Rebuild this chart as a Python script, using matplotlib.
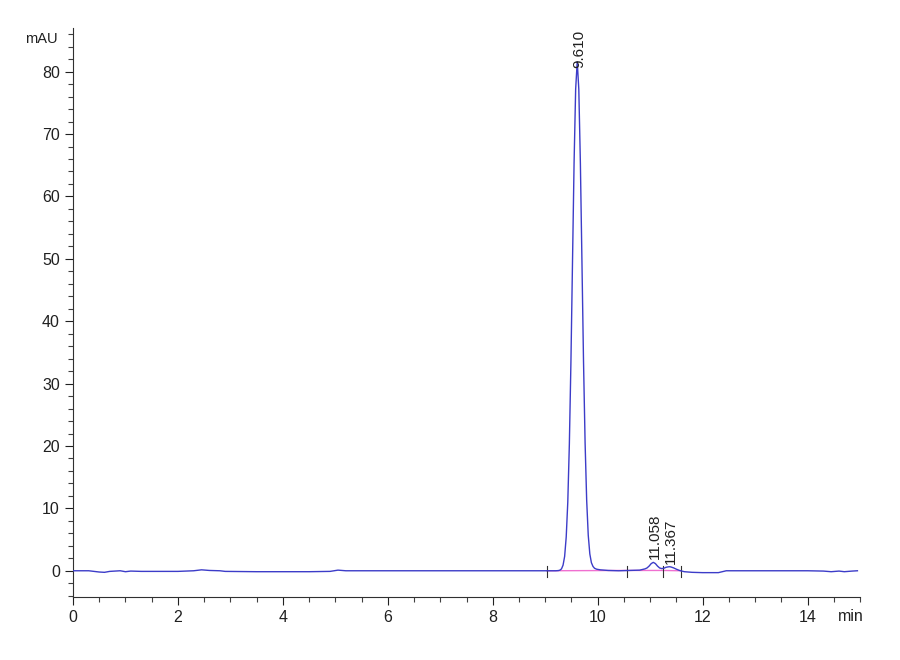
import numpy as np
import matplotlib
matplotlib.use('Agg')
import matplotlib.pyplot as plt
from matplotlib.ticker import MultipleLocator

plt.rcParams['font.family'] = ['Liberation Sans', 'DejaVu Sans']

# クロマトグラムの読み取り値 (時間[min], 信号[mAU])
time = [0, 0.3, 0.5, 0.6, 0.7, 0.9, 1.0, 1.1, 1.3, 1.6, 2.0, 2.3, 2.45, 2.6,
        2.8, 2.9, 3.5, 4.0, 4.5, 4.9, 5.05, 5.2, 5.6, 6.0, 7.0, 8.0, 8.6,
        9.0, 9.2,
        9.25, 9.28, 9.31, 9.34, 9.37, 9.40, 9.43, 9.46, 9.49, 9.52, 9.55,
        9.58, 9.61, 9.64, 9.67, 9.70, 9.73, 9.76, 9.79, 9.82, 9.85, 9.88,
        9.91, 9.94, 9.98, 10.05, 10.2, 10.4, 10.6, 10.8, 10.9,
        10.94, 10.98, 11.02, 11.06, 11.10, 11.14, 11.18, 11.22, 11.26, 11.30,
        11.34, 11.37, 11.40, 11.45, 11.50, 11.56, 11.65, 11.8, 12.0, 12.3,
        12.45, 13.0, 13.5, 14.0, 14.3, 14.45, 14.6, 14.7, 14.85, 14.95]
signal = [0, 0, -0.2, -0.25, -0.1, 0, -0.15, -0.05, -0.1, -0.1, -0.1, 0, 0.15, 0.05,
          0, -0.1, -0.15, -0.15, -0.15, -0.1, 0.1, 0, 0, 0, 0, 0, 0,
          0, 0,
          0.03, 0.1, 0.3, 0.9, 2.3, 5.4, 11.0, 20.3, 33.5, 49.5, 65.4,
          77.2, 81.6, 77.2, 65.4, 49.5, 33.5, 20.5, 11.3, 5.7, 2.7, 1.3,
          0.7, 0.4, 0.25, 0.15, 0.05, 0, 0.05, 0.1, 0.3,
          0.45, 0.75, 1.15, 1.35, 1.15, 0.75, 0.45, 0.35, 0.4, 0.55,
          0.62, 0.65, 0.6, 0.45, 0.25, 0.05, -0.15, -0.25, -0.3, -0.3,
          0, 0, 0, 0, -0.05, -0.15, -0.05, -0.15, -0.05, 0]

# ベースライン
base_t = [9.03, 10.55, 11.25, 11.58]
base_y = [0.0, 0.05, 0.05, 0.0]

# ピーク
peak_rt = [9.610, 11.058, 11.367]
peak_h = [81.6, 1.35, 0.65]
peak_lbl = ['9.610', '11.058', '11.367']

fig = plt.figure(figsize=(9, 6.6), dpi=100)
ax = fig.add_axes([0.0811, 0.0955, 0.8745, 0.8621])

ax.plot(base_t, base_y, color='#f070d0', lw=1.0, zorder=1)
for bt in base_t:
    ax.plot([bt, bt], [0.8, -1.0], color='#303030', lw=0.8, zorder=2)
ax.plot(time, signal, color='#3c3cc8', lw=1.0, zorder=3)

for rt, h, lbl in zip(peak_rt, peak_h, peak_lbl):
    y = h - 1.0 if h > 10 else h + 0.5
    ax.text(rt + 0.03, y, lbl, rotation=90, ha='center', va='bottom',
            fontsize=11, color='#202020')

ax.set_xlim(0, 15)
ax.set_ylim(-4.2, 87)
ax.xaxis.set_major_locator(MultipleLocator(2))
ax.xaxis.set_minor_locator(MultipleLocator(0.5))
ax.yaxis.set_major_locator(MultipleLocator(10))
ax.yaxis.set_minor_locator(MultipleLocator(2))
ax.tick_params(which='major', direction='out', length=6, width=0.8,
               labelsize=11.5, colors='#202020')
ax.tick_params(which='minor', direction='out', length=3.5, width=0.8,
               colors='#404040')
for s in ['top', 'right']:
    ax.spines[s].set_visible(False)
for s in ['left', 'bottom']:
    ax.spines[s].set_linewidth(0.8)
    ax.spines[s].set_color('#303030')

ax.text(-0.02, 85.3, 'mAU', transform=ax.get_yaxis_transform(),
        ha='right', va='center', fontsize=10.5, color='#202020')
ax.text(14.83, -7.4, 'min', ha='center', va='center', fontsize=11.5,
        color='#202020')

fig.savefig('out.png', dpi=100)
